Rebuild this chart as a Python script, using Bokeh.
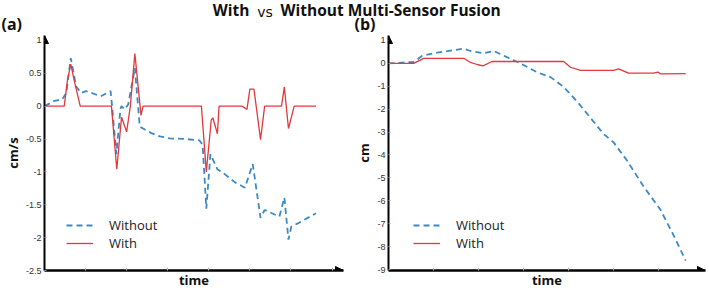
from bokeh.plotting import figure
from bokeh.models import Range1d, Label, Legend, LegendItem, Arrow, NormalHead, FixedTicker
from bokeh.layouts import column, row
from bokeh.embed import file_html
from bokeh.resources import INLINE

# ---------------- data ----------------
# panel (a): velocity error (cm/s)
a_with_t = [0, 0.48, 0.56, 0.64, 0.72, 0.87, 1.63, 1.76, 1.875, 2.0, 2.09, 2.2, 2.35, 2.4,
            3.82, 3.94, 4.06, 4.1, 4.21, 4.25, 4.81, 4.93, 5.0, 5.1, 5.26, 5.36,
            5.77, 5.84, 5.94, 6.08, 6.61]
a_with_v = [0, 0, 0.4, 0.64, 0.4, 0, 0, -0.96, -0.17, -0.39, 0, 0.8, -0.14, 0,
            0, -1.0, -0.21, -0.18, -0.42, 0, 0, -0.05, 0.26, 0.26, -0.51, 0,
            0, 0.29, -0.34, 0, 0]
a_without_t = [0, 0.24, 0.43, 0.53, 0.64, 0.77, 0.89, 1.01, 1.37, 1.61, 1.63, 1.75, 1.85,
               1.875, 1.95, 2.04, 2.2, 2.32, 2.4, 2.6, 2.81, 3.05, 3.44, 3.77, 3.85,
               3.94, 4.04, 4.21, 4.38, 4.64, 4.88, 5.07, 5.26, 5.36, 5.72, 5.84, 5.94,
               6.01, 6.18, 6.61]
a_without_v = [0, 0.08, 0.1, 0.2, 0.73, 0.3, 0.2, 0.23, 0.15, 0.23, 0.1, -0.73, -0.04,
               0.0, -0.05, 0.03, 0.58, -0.31, -0.34, -0.41, -0.46, -0.49, -0.5, -0.52, -0.59,
               -1.56, -0.73, -0.96, -1.03, -1.16, -1.24, -0.88, -1.7, -1.58, -1.68, -1.39, -2.03,
               -1.83, -1.78, -1.63]

# panel (b): position error (cm)
b_with_t = [0, 0.56, 0.78, 1.67, 1.82, 1.97, 2.1, 2.3, 3.89, 4.04, 4.27, 5.0, 5.11, 5.33,
            5.89, 5.98, 6.04, 6.6]
b_with_v = [0, 0, 0.22, 0.22, 0.04, -0.05, -0.11, 0.08, 0.08, -0.17, -0.31, -0.31, -0.24, -0.43,
            -0.43, -0.38, -0.46, -0.45]
b_without_t = [0, 0.56, 0.75, 1.08, 1.67, 1.82, 2.12, 2.34, 2.64, 2.93, 3.3, 3.6, 3.89,
               4.19, 4.49, 4.78, 5.0, 5.3, 5.67, 6.04, 6.34, 6.6]
b_without_v = [0, 0.06, 0.33, 0.47, 0.64, 0.54, 0.44, 0.54, 0.26, 0.0, -0.39, -0.6, -1.03,
               -1.67, -2.39, -3.09, -3.45, -4.25, -5.39, -6.39, -7.54, -8.61]

a_yticks = [1, 0.5, 0, -0.5, -1, -1.5, -2, -2.5]
a_ylabels = ["1", "0.5", "0", "-0.5", "-1", "-1.5", "-2", "-2.5"]
b_yticks = [1, 0, -1, -2, -3, -4, -5, -6, -7, -8, -9]
b_ylabels = ["1", "0", "-1", "-2", "-3", "-4", "-5", "-6", "-7", "-8", "-9"]
a_xticks = [1, 2, 3, 4, 5, 6, 7]
b_xticks = [1, 2, 3, 4, 5, 6]

series_names = ["Without", "With"]
main_title = ["With", "vs", "Without Multi-Sensor Fusion"]
panel_tags = ["(a)", "(b)"]
y_titles = ["cm/s", "cm"]
x_title = "time"

BLUE = "#3b89c6"
RED = "#e2393c"
BOLD_FONT = "Open Sans"
STRIP_H = 35
FIG_H = 291 - STRIP_H


def make_panel(width, left, right, xr, yr, yticks, ylabels, xticks, ytitle,
               with_t, with_v, wo_t, wo_v, leg_x):
    p = figure(width=width, height=FIG_H, x_range=Range1d(*xr), y_range=Range1d(*yr),
               output_backend="svg", toolbar_location=None,
               min_border_left=left, min_border_right=right,
               min_border_top=0, min_border_bottom=19)
    p.outline_line_color = None
    p.grid.visible = False
    p.background_fill_color = "white"

    blue = p.line(wo_t, wo_v, line_color=BLUE, line_width=1.8, line_dash="6 4")
    red = p.line(with_t, with_v, line_color=RED, line_width=1.3)

    # y axis
    ya = p.yaxis[0]
    ya.ticker = FixedTicker(ticks=yticks)
    ya.major_label_overrides = {t: l for t, l in zip(yticks, ylabels)}
    ya.axis_line_width = 2
    ya.axis_line_color = "black"
    ya.major_tick_in = 2
    ya.major_tick_out = 0
    ya.major_tick_line_color = "#999999"
    ya.minor_tick_line_color = None
    ya.major_label_text_font = "Liberation Sans"
    ya.major_label_text_font_size = "9px"
    ya.major_label_text_color = "#333333"
    ya.major_label_standoff = 3
    ya.axis_label = ytitle
    ya.axis_label_text_font = BOLD_FONT
    ya.axis_label_text_font_style = "bold"
    ya.axis_label_text_font_size = "13px"
    ya.axis_label_text_color = "#111111"
    ya.axis_label_standoff = 1

    # x axis
    xa = p.xaxis[0]
    xa.ticker = FixedTicker(ticks=xticks)
    xa.major_label_overrides = {t: "" for t in xticks}
    xa.major_label_text_font_size = "0px"
    xa.major_label_standoff = 0
    xa.axis_line_width = 2.5
    xa.axis_line_color = "black"
    xa.major_tick_in = 3
    xa.major_tick_out = 0
    xa.major_tick_line_color = "#bbbbbb"
    xa.minor_tick_line_color = None
    xa.axis_label = x_title
    xa.axis_label_text_font = BOLD_FONT
    xa.axis_label_text_font_style = "bold"
    xa.axis_label_text_font_size = "13px"
    xa.axis_label_text_color = "#111111"
    xa.axis_label_standoff = 0

    # arrow heads at the end of the axes
    dy = (yr[1] - yr[0]) * 0.01
    dx = (xr[1] - xr[0]) * 0.01
    p.add_layout(Arrow(end=NormalHead(size=8, fill_color="black", line_color="black"),
                       x_start=xr[0], y_start=yr[1] - dy, x_end=xr[0], y_end=yr[1],
                       line_alpha=0))
    p.add_layout(Arrow(end=NormalHead(size=8, fill_color="black", line_color="black"),
                       x_start=xr[1] - dx, y_start=yr[0], x_end=xr[1], y_end=yr[0],
                       line_alpha=0))

    legend = Legend(items=[LegendItem(label=series_names[0], renderers=[blue]),
                           LegendItem(label=series_names[1], renderers=[red])],
                    location=(leg_x, 18))
    legend.background_fill_alpha = 0
    legend.border_line_alpha = 0
    legend.padding = 0
    legend.margin = 0
    legend.spacing = 0
    legend.glyph_width = 27
    legend.glyph_height = 18
    legend.label_height = 18
    legend.label_standoff = 16
    legend.label_text_font = "Open Sans"
    legend.label_text_font_size = "13px"
    legend.label_text_color = "#222222"
    p.add_layout(legend)
    return p


fig_a = make_panel(352, 40, 9, (0, 7.28), (-2.5, 1.075), a_yticks, a_ylabels, a_xticks,
                   y_titles[0], a_with_t, a_with_v, a_without_t, a_without_v, 22)
fig_b = make_panel(357, 36, 4, (0, 7.04), (-9.043, 1.216), b_yticks, b_ylabels, b_xticks,
                   y_titles[1], b_with_t, b_with_v, b_without_t, b_without_v, 25)

# title strip (title + panel tags)
tfig = figure(width=709, height=STRIP_H, x_range=Range1d(0, 709), y_range=Range1d(0, STRIP_H),
              output_backend="svg", toolbar_location=None, min_border=0)
tfig.axis.visible = False
tfig.grid.visible = False
tfig.outline_line_color = None
title_y = 14.5
tfig.add_layout(Label(x=249, y=title_y, text=main_title[0], text_align="right",
                      text_baseline="bottom",
                      text_font=BOLD_FONT, text_font_style="bold",
                      text_font_size="15.5px", text_color="#111111"))
tfig.add_layout(Label(x=264.5, y=title_y + 1, text=main_title[1], text_align="center",
                      text_baseline="bottom",
                      text_font="DejaVu Sans", text_font_size="14px",
                      text_color="#111111"))
tfig.add_layout(Label(x=280, y=title_y, text=main_title[2], text_align="left",
                      text_baseline="bottom",
                      text_font=BOLD_FONT, text_font_style="bold",
                      text_font_size="15.5px", text_color="#111111"))
tag_y = 0.7
for tag, tx in zip(panel_tags, [1, 354]):
    tfig.add_layout(Label(x=tx, y=tag_y, text=tag, text_align="left",
                          text_baseline="bottom",
                          text_font=BOLD_FONT, text_font_style="bold",
                          text_font_size="16px", text_color="#111111"))

layout = column(tfig, row(fig_a, fig_b, spacing=0), spacing=0)

open("out.html", "w").write(file_html(layout, INLINE))
